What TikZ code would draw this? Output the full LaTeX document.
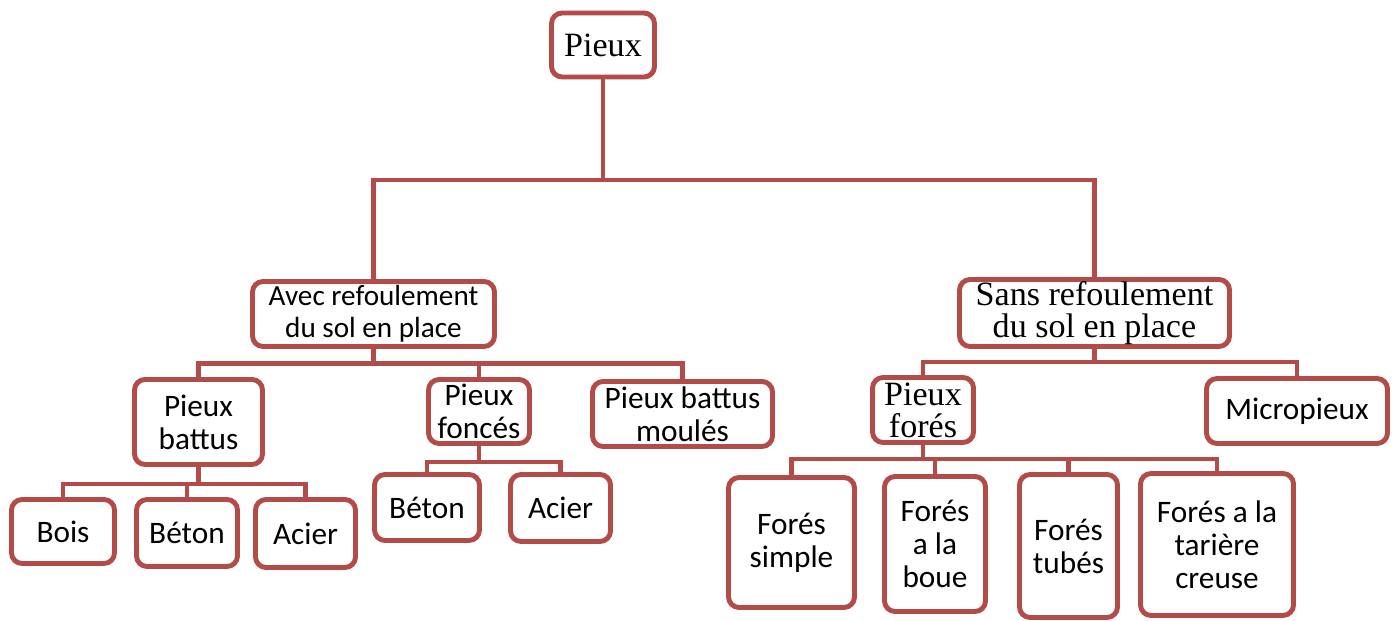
\documentclass[tikz,border=0pt]{standalone}
\usepackage{fontspec}
\setmainfont{Carlito}
\newfontfamily\titrefont{Liberation Serif}
\definecolor{pieuxrouge}{RGB}{179,75,73}
\tikzset{
	boite/.style={draw=pieuxrouge, line width=2.8pt, rounded corners=6pt, fill=white, align=center, inner sep=0pt, font=\fontsize{17.8}{18.8}\selectfont},
	petit/.style={font=\fontsize{16.6}{18.2}\selectfont},
	titre/.style={font=\titrefont\fontsize{19.4}{18.2}\selectfont},
	lien/.style={draw=pieuxrouge, line width=2.8pt}
}
\begin{document}
\begin{tikzpicture}
				\useasboundingbox (0,0) rectangle (27.9,-12.42);

				\node[boite, titre, minimum width=2.06cm, minimum height=1.28cm] (pieux) at (12.06,-0.9) {Pieux};

				\node[boite, petit, minimum width=4.84cm, minimum height=1.3cm] (avec) at (7.47,-6.28) {Avec refoulement\\du sol en place};
				\node[boite, titre, minimum width=5.4cm, minimum height=1.34cm] (sans) at (21.89,-6.26) {Sans refoulement\\du sol en place};

				\node[boite, minimum width=2.56cm, minimum height=1.7cm] (battus) at (3.97,-8.44) {Pieux\\battus};
				\node[boite, minimum width=2.02cm, minimum height=1.28cm] (fonces) at (9.58,-8.23) {Pieux\\foncés};
				\node[boite, minimum width=3.6cm, minimum height=1.3cm] (moules) at (13.65,-8.28) {Pieux battus\\moulés};
				\node[boite, titre, minimum width=2.02cm, minimum height=1.3cm] (fores) at (18.46,-8.2) {Pieux\\forés};
				\node[boite, minimum width=3.62cm, minimum height=1.3cm] (micro) at (25.94,-8.22) {Micropieux};

				\node[boite, minimum width=2.06cm, minimum height=1.28cm] (bois) at (1.26,-10.63) {Bois};
				\node[boite, minimum width=2.02cm, minimum height=1.34cm] (betonA) at (3.74,-10.66) {Béton};
				\node[boite, minimum width=2cm, minimum height=1.36cm] (acierA) at (6.11,-10.67) {Acier};
				\node[boite, minimum width=2.1cm, minimum height=1.32cm] (betonB) at (8.54,-10.15) {Béton};
				\node[boite, minimum width=2cm, minimum height=1.34cm] (acierB) at (11.21,-10.16) {Acier};

				\node[boite, minimum width=2.52cm, minimum height=2.6cm] (fsimple) at (15.83,-10.85) {Forés\\simple};
				\node[boite, minimum width=2.02cm, minimum height=2.7cm] (fboue) at (18.7,-10.88) {Forés\\a la\\boue};
				\node[boite, minimum width=1.96cm, minimum height=2.86cm] (ftubes) at (21.37,-10.92) {Forés\\tubés};
				\node[boite, minimum width=3.06cm, minimum height=2.84cm] (ftariere) at (24.34,-10.89) {Forés a la\\tarière\\creuse};

				\coordinate (jpieux) at (12.06,-3.6);
				\coordinate (javec) at (7.47,-7.27);
				\coordinate (jsans) at (21.89,-7.24);
				\coordinate (jbattus) at (3.97,-9.68);
				\coordinate (jfonces) at (9.58,-9.24);
				\coordinate (jfores) at (18.46,-9.18);

				\draw[lien] (pieux) -- (jpieux) -| (avec);
				\draw[lien] (jpieux) -| (sans);

				\draw[lien] (avec) -- (javec) -| (battus);
				\draw[lien] (javec) -| (fonces);
				\draw[lien] (javec) -| (moules);

				\draw[lien] (sans) -- (jsans) -| (fores);
				\draw[lien] (jsans) -| (micro);

				\draw[lien] (battus) -- (jbattus) -| (bois);
				\draw[lien] (jbattus) -| (betonA);
				\draw[lien] (jbattus) -| (acierA);

				\draw[lien] (fonces) -- (jfonces) -| (betonB);
				\draw[lien] (jfonces) -| (acierB);

				\draw[lien] (fores) -- (jfores) -| (fsimple);
				\draw[lien] (jfores) -| (fboue);
				\draw[lien] (jfores) -| (ftubes);
				\draw[lien] (jfores) -| (ftariere);
			\end{tikzpicture}
\end{document}
